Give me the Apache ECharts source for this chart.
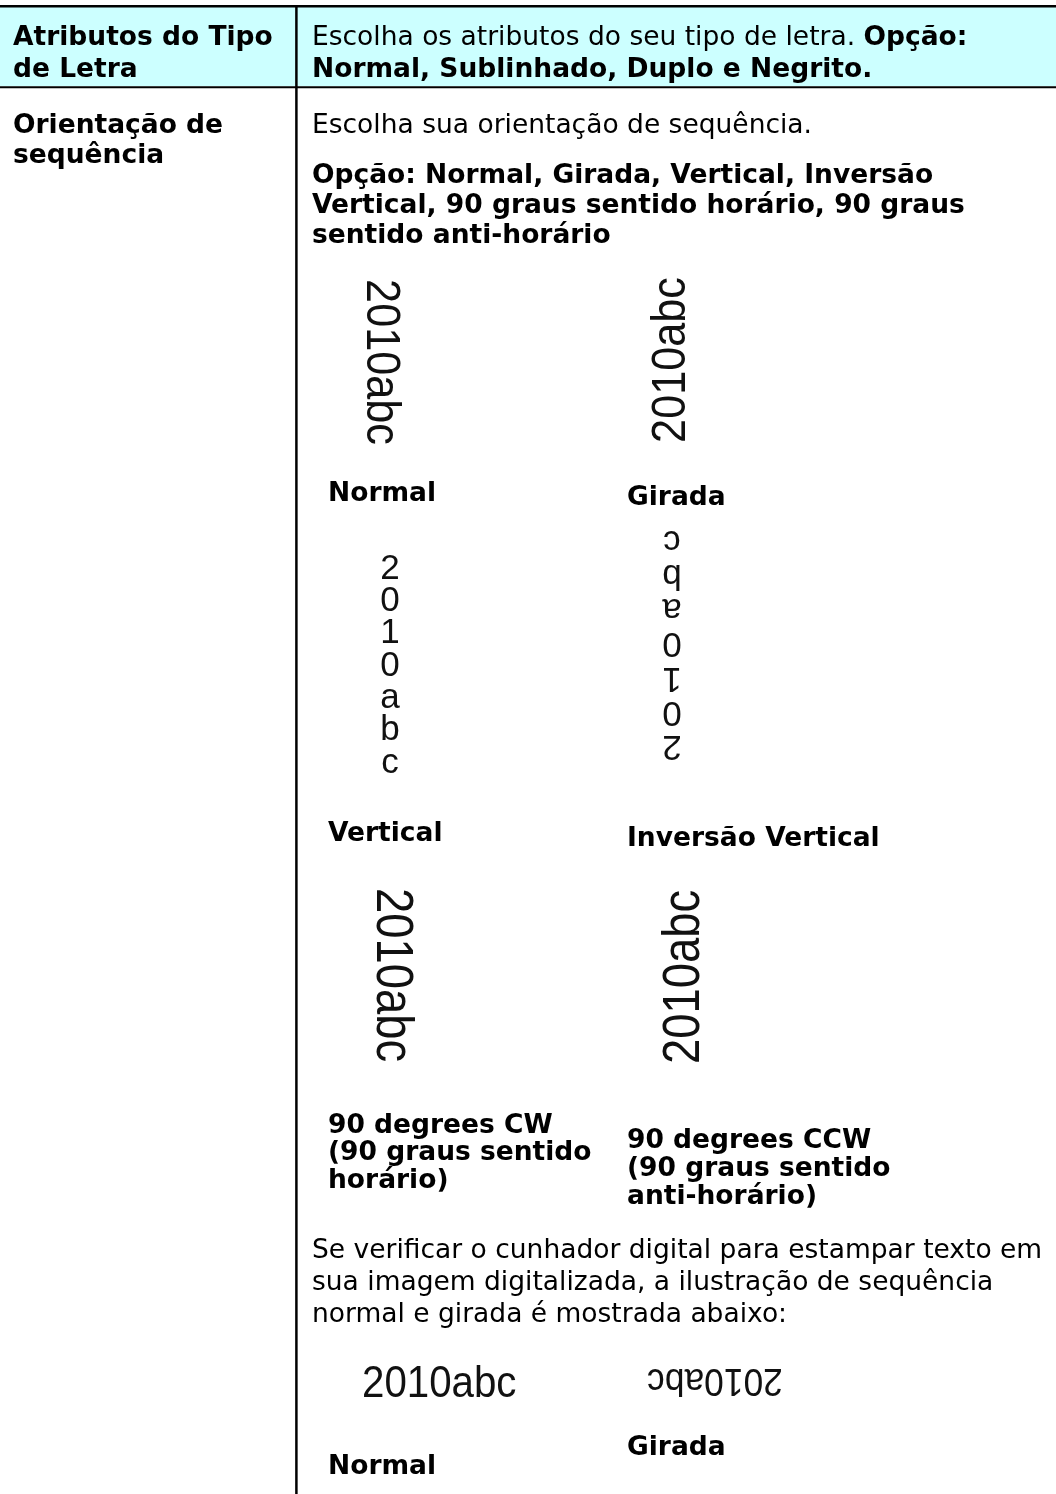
<!DOCTYPE html>
<html><head><meta charset="utf-8">
<script src="https://cdn.jsdelivr.net/npm/echarts@6/dist/echarts.min.js"></script>
<style>html,body{margin:0;padding:0;background:#fff}#c{width:1056px;height:1494px}</style>
</head><body><div id="c"></div>
<script>
// ---- content ----
const rowLabels = [['Atributos do Tipo', 'de Letra'], ['Orientação de', 'sequência']];
const fontAttrLine1 = ['Escolha os atributos do seu tipo de letra. ', 'Opção:'];
const fontAttrLine2 = 'Normal, Sublinhado, Duplo e Negrito.';
const orientIntro = 'Escolha sua orientação de sequência.';
const orientOptions = ['Opção: Normal, Girada, Vertical, Inversão', 'Vertical, 90 graus sentido horário, 90 graus', 'sentido anti-horário'];
const sampleText = '2010abc';
const captionsLeft = [['Normal'], ['Vertical'], ['90 degrees CW', '(90 graus sentido', 'horário)']];
const captionsRight = [['Girada'], ['Inversão Vertical'], ['90 degrees CCW', '(90 graus sentido', 'anti-horário)']];
const stampNote = ['Se verificar o cunhador digital para estampar texto em', 'sua imagem digitalizada, a ilustração de sequência', 'normal e girada é mostrada abaixo:'];
const stampCaptions = ['Normal', 'Girada'];

// ---- layout ----
const FONT = '"DejaVu Sans", Verdana, sans-serif';
const IMG = '"Liberation Sans", Arial, sans-serif';
const FS = 26.5;
const els = [];

function txt(str, x, base, bold) {
  return {
    type: 'text', x: x, y: base - 0.346 * FS,
    style: { text: str, fontFamily: FONT, fontSize: FS, fontWeight: bold ? 'bold' : 'normal', fill: '#000', align: 'left', verticalAlign: 'middle' }
  };
}
function lines(arr, x, base0, step, bold) {
  arr.forEach((s, i) => els.push(txt(s, x, base0 + i * step, bold)));
}

// header background and rules
els.push({ type: 'rect', shape: { x: 0, y: 7, width: 1056, height: 79 }, style: { fill: '#ccffff' } });
els.push({ type: 'line', shape: { x1: 0, y1: 6.2, x2: 1056, y2: 6.2 }, style: { stroke: '#000', lineWidth: 2.5 } });
els.push({ type: 'line', shape: { x1: 0, y1: 87.2, x2: 1056, y2: 87.2 }, style: { stroke: '#000', lineWidth: 2 } });
els.push({ type: 'line', shape: { x1: 296.4, y1: 5, x2: 296.4, y2: 1494 }, style: { stroke: '#000', lineWidth: 2.5 } });

// left column
lines(rowLabels[0], 13, 47, 32, true);
lines(rowLabels[1], 13, 135, 30, true);

// header description (mixed weight)
els.push({
  type: 'text', x: 312, y: 47 - 0.346 * FS,
  style: {
    text: '{r|' + fontAttrLine1[0] + '}{b|' + fontAttrLine1[1] + '}',
    fontFamily: FONT, fontSize: FS, fill: '#000', align: 'left', verticalAlign: 'middle',
    rich: {
      r: { fontFamily: FONT, fontSize: FS, fontWeight: 'normal', fill: '#000' },
      b: { fontFamily: FONT, fontSize: FS, fontWeight: 'bold', fill: '#000' }
    }
  }
});
els.push(txt(fontAttrLine2, 312, 79, true));

// orientation description
els.push(txt(orientIntro, 312, 135, false));
lines(orientOptions, 312, 185, 30, true);

// sample images
function sample(x, y, fs, sx, rot, str, lh) {
  const st = { text: str, fontFamily: IMG, fontSize: fs, fill: '#111', align: 'center', verticalAlign: 'middle' };
  if (lh) st.lineHeight = lh;
  els.push({ type: 'text', x: x, y: y, rotation: rot, scaleX: sx, style: st });
}
const vStack = sampleText.split('').join('\n');
sample(380, 362, 48, 0.9, -Math.PI / 2, sampleText);
sample(672, 360, 48, 0.9, Math.PI / 2, sampleText);
sample(390, 666, 35, 1.0, 0, vStack, 32.3);
sample(672, 643, 35, 1.0, Math.PI, vStack, 34.2);
sample(391, 975, 51, 0.89, -Math.PI / 2, sampleText);
sample(685, 977, 51, 0.89, Math.PI / 2, sampleText);

// captions
lines(captionsLeft[0], 328, 503, 28, true);
lines(captionsRight[0], 627, 507, 28, true);
lines(captionsLeft[1], 328, 843, 28, true);
lines(captionsRight[1], 627, 848, 28, true);
lines(captionsLeft[2], 328, 1135, 27.5, true);
lines(captionsRight[2], 627, 1150, 28, true);

// stamp note
lines(stampNote, 312, 1260, 32, false);

// stamped samples
els.push({ type: 'text', x: 362, y: 1400 - 0.3465 * 44, scaleX: 0.915,
  style: { text: sampleText, fontFamily: IMG, fontSize: 44, fill: '#111', align: 'left', verticalAlign: 'middle' } });
sample(715, 1379, 38, 0.93, Math.PI, sampleText);

els.push(txt(stampCaptions[0], 328, 1476, true));
els.push(txt(stampCaptions[1], 627, 1457, true));

const chart = echarts.init(document.getElementById('c'), null, { renderer: 'canvas' });
chart.setOption({ animation: false, backgroundColor: '#fff', graphic: { elements: els } });
</script></body></html>
